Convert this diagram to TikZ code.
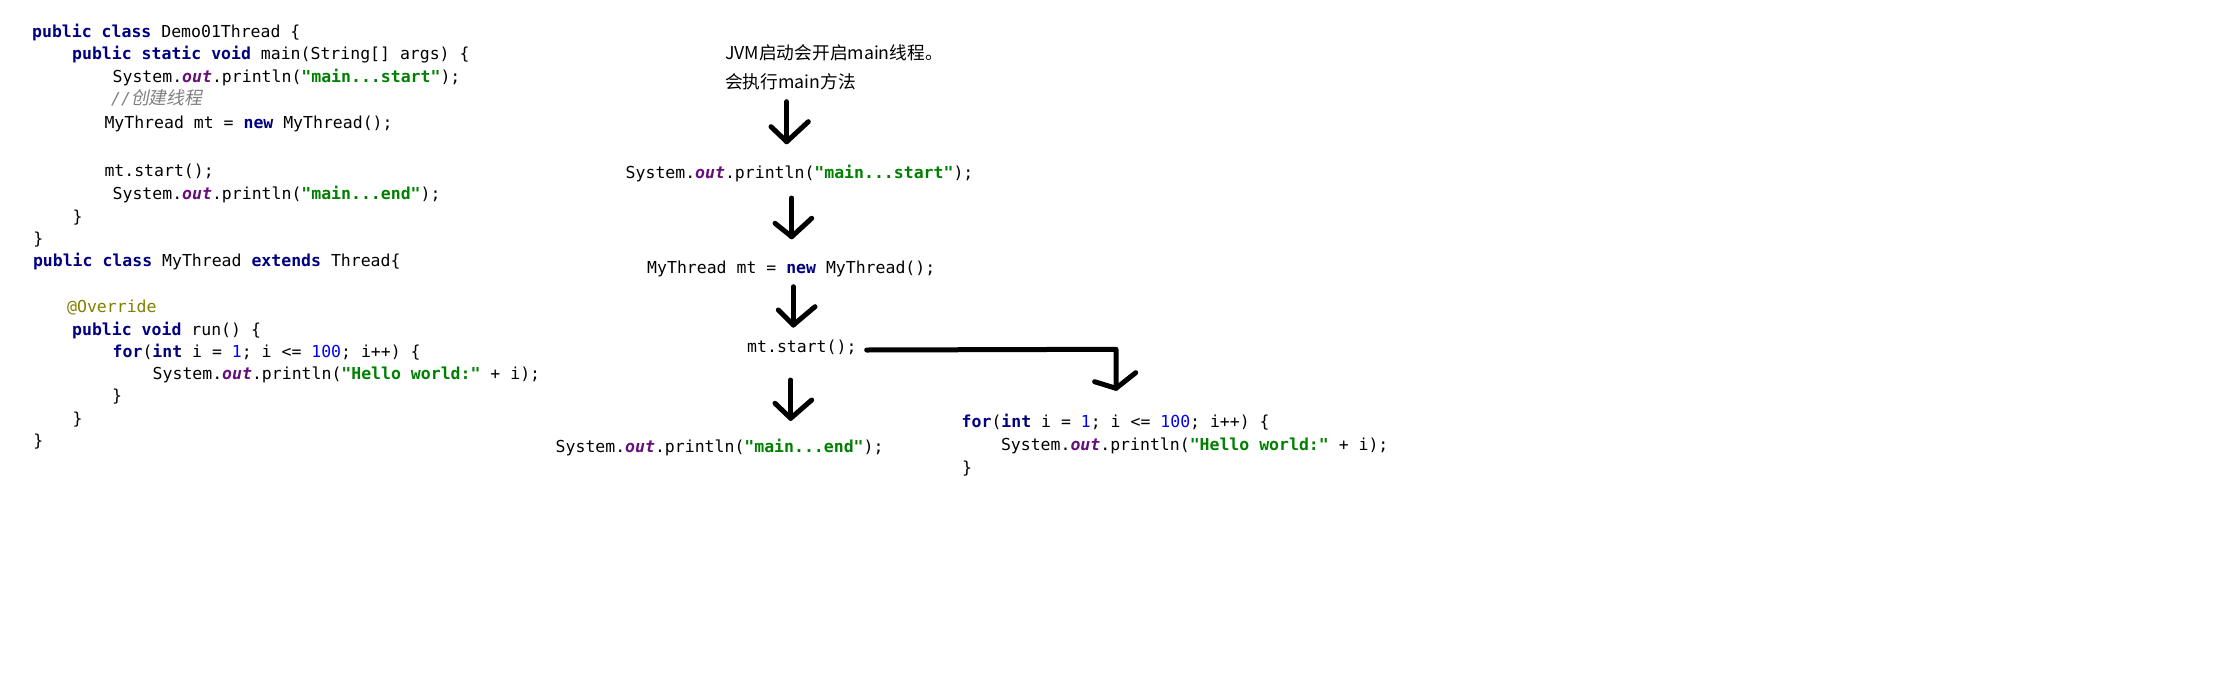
\documentclass[tikz,border=0pt]{standalone}
\usepackage{fontspec}
\setmonofont{DejaVu Sans Mono}
\newfontfamily\cjk{Noto Sans CJK SC}
\newfontfamily\cjkit[FakeSlant=0.2]{Noto Sans CJK SC}
\definecolor{kwc}{RGB}{0,0,128}
\definecolor{strc}{RGB}{0,128,0}
\definecolor{numc}{RGB}{0,0,255}
\definecolor{annc}{RGB}{128,128,0}
\definecolor{fldc}{RGB}{102,14,122}
\definecolor{cmtc}{RGB}{128,128,128}
\newcommand{\jkw}[1]{{\color{kwc}\bfseries #1}}
\newcommand{\jstr}[1]{{\color{strc}\bfseries #1}}
\newcommand{\jnum}[1]{{\color{numc}#1}}
\newcommand{\jfld}[1]{{\color{fldc}\bfseries\itshape #1}}
\newcommand{\jann}[1]{{\color{annc}#1}}
\begin{document}
\begin{tikzpicture}[x=1pt,y=-1pt,
  code/.style={anchor=base west,inner sep=0pt,font=\ttfamily\fontsize{16.5}{24}\selectfont},
  note/.style={anchor=base west,inner sep=0pt,font=\cjk\fontsize{17.7}{22}\selectfont},
  hand/.style={line width=5pt,line cap=round,line join=round,black}]
\fill[white] (0,0) rectangle (2220,683);
\useasboundingbox (0,0) rectangle (2220,683);
% left code
\node[code] (l1) at (32,37.5) {\jkw{public} \jkw{class} Demo01Thread \{};
\node[code] (l2) at (72,59.5) {\jkw{public} \jkw{static} \jkw{void} main(String[] args) \{};
\node[code] (l3) at (112.5,82) {System.\jfld{out}.println(\jstr{"main...start"});};
\node[code] (l4) at (111,104.5) {{\color{cmtc}\itshape //}{\cjkit\fontsize{17.8}{23}\selectfont\color{cmtc}创建线程}};
\node[code] (l5) at (104.3,128.5) {MyThread mt = \jkw{new} MyThread();};
\node[code] (l6) at (104.3,176.5) {mt.start();};
\node[code] (l7) at (112.5,199.5) {System.\jfld{out}.println(\jstr{"main...end"});};
\node[code] (l8) at (72.5,222.5) {\}};
\node[code] (l9) at (33.2,244) {\}};
\node[code] (l10) at (32.8,266) {\jkw{public} \jkw{class} MyThread \jkw{extends} Thread\{};
\node[code] (l11) at (67,312.5) {\jann{@Override}};
\node[code] (l12) at (72,335) {\jkw{public} \jkw{void} run() \{};
\node[code] (l13) at (112.5,357.5) {\jkw{for}(\jkw{int} i = \jnum{1}; i <= \jnum{100}; i++) \{};
\node[code] (l14) at (152.5,379.5) {System.\jfld{out}.println(\jstr{"Hello world:"} + i);};
\node[code] (l15) at (111.8,401) {\}};
\node[code] (l16) at (72.5,424) {\}};
\node[code] (l17) at (33.2,446) {\}};
% middle labels
\node[note] (j1) at (725,59) {JVM启动会开启main线程。};
\node[note] (j2) at (725,88) {会执行main方法};
\node[code] (m1) at (625.5,178) {System.\jfld{out}.println(\jstr{"main...start"});};
\node[code] (m2) at (647,273) {MyThread mt = \jkw{new} MyThread();};
\node[code] (m3) at (747,352.7) {mt.start();};
\node[code] (m4) at (555.5,452.7) {System.\jfld{out}.println(\jstr{"main...end"});};
% right code
\node[code] (r1) at (961.5,427.7) {\jkw{for}(\jkw{int} i = \jnum{1}; i <= \jnum{100}; i++) \{};
\node[code] (r2) at (1000.8,450.7) {System.\jfld{out}.println(\jstr{"Hello world:"} + i);};
\node[code] (r3) at (961.8,473.7) {\}};
% arrow coordinates
\coordinate (a1s) at (786.7,101.7); \coordinate (a1t) at (786.7,141.7);
\coordinate (a1l) at (771,126.7);   \coordinate (a1r) at (808.3,121.7);
\coordinate (a2s) at (791.7,198);   \coordinate (a2t) at (791.7,236.7);
\coordinate (a2l) at (775,223.3);   \coordinate (a2r) at (811.7,218.3);
\coordinate (a3s) at (793.3,286.7); \coordinate (a3t) at (793.3,325);
\coordinate (a3l) at (778.3,310);   \coordinate (a3r) at (815,306.7);
\coordinate (a4s) at (790.7,380);   \coordinate (a4t) at (790.7,418.3);
\coordinate (a4l) at (775,403.3);   \coordinate (a4r) at (811.7,400);
\coordinate (a5s) at (866.7,350);   \coordinate (a5c) at (1116,349.3);
\coordinate (a5t) at (1116,388.3);
\coordinate (a5l) at (1094.6,381.7); \coordinate (a5r) at (1135.7,372.7);
% arrows
\draw[hand] (a1s) -- (a1t); \draw[hand] (a1l) -- (a1t) -- (a1r);
\draw[hand] (a2s) -- (a2t); \draw[hand] (a2l) -- (a2t) -- (a2r);
\draw[hand] (a3s) -- (a3t); \draw[hand] (a3l) -- (a3t) -- (a3r);
\draw[hand] (a4s) -- (a4t); \draw[hand] (a4l) -- (a4t) -- (a4r);
\draw[hand] (a5s) -- (a5c) -- (a5t); \draw[hand] (a5l) -- (a5t) -- (a5r);
\end{tikzpicture}
\end{document}
